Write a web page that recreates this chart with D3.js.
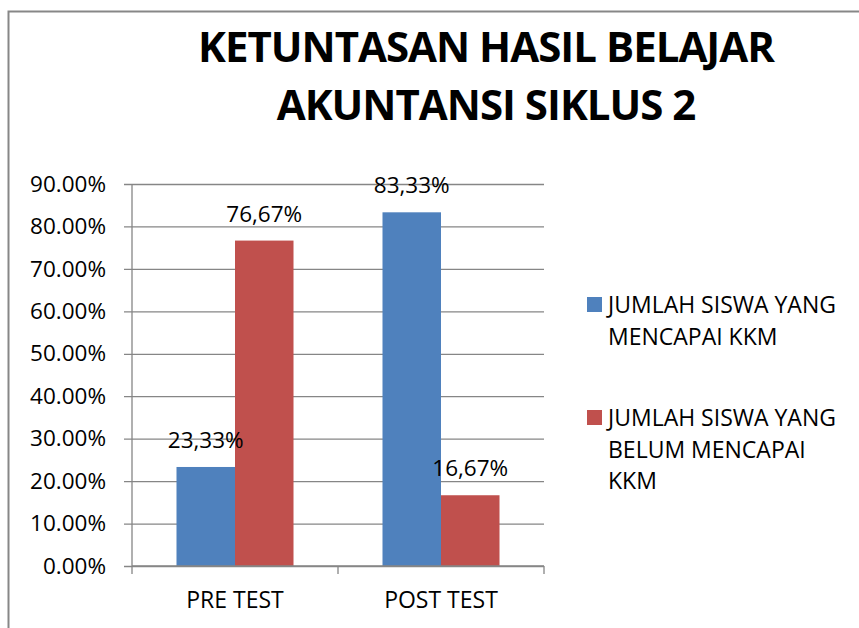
<!DOCTYPE html>
<html>
<head>
    <meta charset="utf-8">
    <script src="https://d3js.org/d3.v7.min.js"></script>
    <style>
        body { margin: 0; background: #fff; }
        text { font-family: "Open Sans", "Liberation Sans", sans-serif; fill: #000; }
        .grid line { stroke: #868686; stroke-width: 1.3px; }
    </style>
</head>
<body>
    <div id="chart"></div>
    <script>
        // chart data
        const categories = ["PRE TEST", "POST TEST"];
        const seriesNames = ["JUMLAH SISWA YANG MENCAPAI KKM", "JUMLAH SISWA YANG BELUM MENCAPAI KKM"];
        const seriesLegendLines = [
            ["JUMLAH SISWA YANG", "MENCAPAI KKM"],
            ["JUMLAH SISWA YANG", "BELUM MENCAPAI", "KKM"]
        ];
        const tercapai = [23.33, 83.33];
        const belumTercapai = [76.67, 16.67];
        const valueLabels = [["23,33%", "83,33%"], ["76,67%", "16,67%"]];
        const yTicks = [0, 10, 20, 30, 40, 50, 60, 70, 80, 90];
        const titleLines = ["KETUNTASAN HASIL BELAJAR", "AKUNTANSI SIKLUS 2"];
        const colors = ["#4F81BD", "#C0504D"];

        const width = 859, height = 628;
        const plot = { left: 132, right: 544, top: 184, bottom: 566 };

        const svg = d3.select("#chart").append("svg")
            .attr("width", width)
            .attr("height", height);

        // outer chart border (runs off the picture on the right and bottom)
        svg.append("rect")
            .attr("x", 8.5).attr("y", 11.5)
            .attr("width", 870).attr("height", 640)
            .attr("fill", "#fff")
            .attr("stroke", "#878787")
            .attr("stroke-width", 2);

        // title
        svg.append("g").selectAll("text")
            .data(titleLines)
            .join("text")
            .attr("x", 486)
            .attr("y", (d, i) => 62 + i * 58)
            .attr("text-anchor", "middle")
            .style("font-size", "42px")
            .style("font-weight", "bold")
            .style("letter-spacing", "-1px")
            .text(d => d);

        const y = d3.scaleLinear().domain([0, 90]).range([plot.bottom, plot.top]);
        const x0 = d3.scaleBand().domain(categories).range([plot.left, plot.right])
            .paddingInner(0.432).paddingOuter(0.216);
        const x1 = d3.scaleBand().domain([0, 1]).range([0, x0.bandwidth()]);

        // gridlines + y labels
        const yAxis = svg.append("g")
            .attr("class", "grid")
            .attr("transform", `translate(${plot.right},0)`)
            .call(d3.axisLeft(y).tickValues(yTicks)
                .tickSize(plot.right - plot.left + 8)
                .tickPadding(18)
                .tickFormat(d => d.toFixed(2) + "%"));
        yAxis.select(".domain").remove();
        yAxis.selectAll("text").style("font-size", "22.5px");

        // bars
        const seriesValues = [tercapai, belumTercapai];
        const rows = [];
        categories.forEach((c, ci) => {
            seriesValues.forEach((vals, si) => {
                rows.push({ cat: c, s: si, v: vals[ci], label: valueLabels[si][ci] });
            });
        });

        svg.append("g").selectAll("rect")
            .data(rows)
            .join("rect")
            .attr("x", d => x0(d.cat) + x1(d.s))
            .attr("y", d => y(d.v))
            .attr("width", x1.bandwidth())
            .attr("height", d => y(0) - y(d.v))
            .attr("fill", d => colors[d.s]);

        // value labels
        svg.append("g").selectAll("text")
            .data(rows)
            .join("text")
            .attr("x", d => x0(d.cat) + x1(d.s) + x1.bandwidth() / 2)
            .attr("y", d => y(d.v) - 19)
            .attr("text-anchor", "middle")
            .style("font-size", "22.5px")
            .text(d => d.label);

        // y axis line and x axis
        svg.append("line")
            .attr("x1", plot.left).attr("x2", plot.left)
            .attr("y1", plot.top).attr("y2", plot.bottom)
            .attr("stroke", "#868686").attr("stroke-width", 1.3);

        const xAxis = svg.append("g")
            .attr("transform", `translate(0,${plot.bottom})`);
        xAxis.append("line")
            .attr("x1", plot.left).attr("x2", plot.right)
            .attr("stroke", "#868686").attr("stroke-width", 1.3);
        const step = x0.step();
        xAxis.selectAll("line.tick")
            .data(d3.range(categories.length + 1))
            .join("line")
            .attr("class", "tick")
            .attr("x1", i => plot.left + i * step).attr("x2", i => plot.left + i * step)
            .attr("y1", 0).attr("y2", 8)
            .attr("stroke", "#868686").attr("stroke-width", 1.3);
        xAxis.selectAll("text")
            .data(categories)
            .join("text")
            .attr("x", d => x0(d) + x0.bandwidth() / 2)
            .attr("y", 42)
            .attr("text-anchor", "middle")
            .style("font-size", "23px")
            .text(d => d);

        // legend
        const legend = svg.append("g");
        const legendTop = [297, 410];
        seriesNames.forEach((name, i) => {
            const g = legend.append("g").attr("transform", `translate(587,${legendTop[i]})`);
            g.append("rect").attr("width", 15).attr("height", 15).attr("fill", colors[i]);
            g.append("text")
                .attr("x", 21)
                .attr("y", 16)
                .style("font-size", "23px")
                .selectAll("tspan")
                .data(seriesLegendLines[i])
                .join("tspan")
                .attr("x", 21)
                .attr("dy", (d, j) => j === 0 ? 0 : 31.7)
                .text(d => d);
        });
    </script>
</body>
</html>
